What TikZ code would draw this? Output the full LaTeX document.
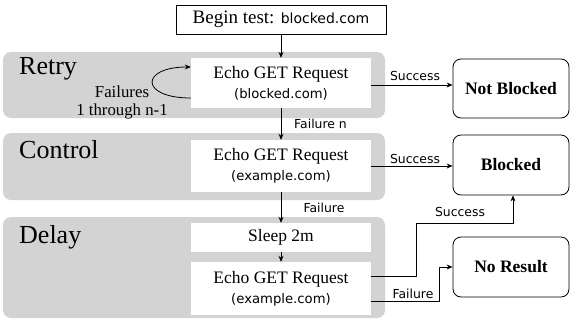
\documentclass[tikz,border=0pt]{standalone}
\usepackage{fontspec}
\setmainfont{Liberation Serif}
\newfontfamily\sansf{DejaVu Sans}
\usetikzlibrary{arrows.meta}
\tikzset{
  grayzone/.style={fill={rgb,255:red,211;green,211;blue,211}, draw=none, rounded corners=8pt, minimum width=382pt, inner sep=0pt},
  whitebox/.style={fill=white, draw=none, minimum width=180pt, inner sep=0pt, align=center, font=\fontsize{17.5}{20}\selectfont},
  resultbox/.style={draw=black, line width=0.8pt, fill=white, rounded corners=8pt, minimum width=116pt, minimum height=60pt, inner sep=0pt, font=\fontsize{17.5}{20}\selectfont\bfseries},
  zonelabel/.style={anchor=west, inner sep=0pt, font=\fontsize{26}{28}\selectfont},
  smalllabel/.style={inner sep=0pt, font=\sansf\fontsize{12.4}{14}\selectfont},
  looplabel/.style={inner sep=0pt, align=center, font=\fontsize{16.8}{17.5}\selectfont},
  arr/.style={-{Stealth[length=6pt,width=5pt]}, line width=0.8pt, black},
}
\newcommand{\urlf}[1]{{\sansf\fontsize{13.2}{15}\selectfont #1}}
\begin{document}
\begin{tikzpicture}[x=1pt,y=-1pt]
\useasboundingbox (0,0) rectangle (571,322);
% zones
\node[grayzone, minimum height=66pt] (zr) at (194,85) {};
\node[grayzone, minimum height=67pt] (zc) at (194,166.5) {};
\node[grayzone, minimum height=101pt] (zd) at (194,267.5) {};
\node[zonelabel] (lr) at (19,69) {Retry};
\node[zonelabel] (lc) at (19,150) {Control};
\node[zonelabel] (ld) at (19,237) {Delay};
% begin
\node[draw=black, line width=0.8pt, fill=white, minimum width=210pt, minimum height=29pt, inner sep=0pt, font=\fontsize{19}{21}\selectfont] (bg) at (281,19.5) {Begin test: {\sansf\fontsize{14}{16}\selectfont blocked.com}};
% white boxes
\node[whitebox, minimum height=50pt] (rw) at (281,83) {Echo GET Request\\\urlf{(blocked.com)}};
\node[whitebox, minimum height=52pt] (cw) at (281,166) {Echo GET Request\\\urlf{(example.com)}};
\node[whitebox, minimum height=29pt] (sl) at (281,237.5) {Sleep 2m};
\node[whitebox, minimum height=53pt] (de) at (281,288.5) {Echo GET Request\\\urlf{(example.com)}};
% results
\node[resultbox, minimum height=59pt] (nb) at (511,88.5) {Not Blocked};
\node[resultbox] (bl) at (511,165) {Blocked};
\node[resultbox] (nr) at (511,267) {No Result};
% connectors
\draw[arr] (bg.south -| rw.north) -- (rw.north);
\draw[arr] ([yshift=-15pt]rw.west) .. controls +(-51,0) and +(-51,0) .. ([yshift=16pt]rw.west);
\node[looplabel] (lf1) at (122,102.5) {Failures\\1 through n-1};
\draw[arr] (rw.south) -- (cw.north);
\node[smalllabel, anchor=west] (lfn) at (294,124) {Failure n};
\draw[arr] (cw.south) -- (sl.north);
\node[smalllabel] (lf2) at (324,208) {Failure};
\draw[arr] (sl.south) -- (de.north);
\draw[arr] ([yshift=-2pt]rw.east) -- ([yshift=-2pt]rw.east -| nb.west);
\node[smalllabel] (ls1) at (415,76) {Success};
\draw[arr] (cw.east) -- (cw.east -| bl.west);
\node[smalllabel] (ls2) at (415,159) {Success};
\coordinate (c1) at (416,223);
\draw[arr] ([yshift=12.5pt]de.east) -| (c1) -| ([xshift=2pt]bl.south);
\node[smalllabel] (ls3) at (460,212) {Success};
\coordinate (c2) at (439,267);
\draw[arr] ([yshift=-12.5pt]de.east) -| (c2) -- (nr.west);
\node[smalllabel] (lf3) at (413,294) {Failure};
\end{tikzpicture}
\end{document}
